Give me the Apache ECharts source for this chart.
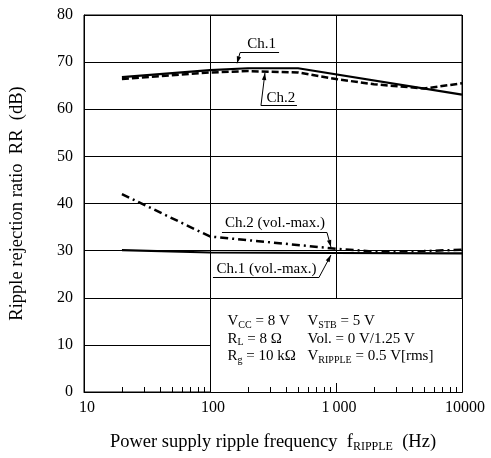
<!DOCTYPE html>
<html><head><meta charset="utf-8">
<script src="https://cdn.jsdelivr.net/npm/echarts@6/dist/echarts.min.js"></script>
<style>html,body{margin:0;padding:0;background:#fff}#c{width:491px;height:458px}</style>
</head><body><div id="c"></div>
<script>
// ---- data ----
const ch1Freq = [20, 100, 200, 500, 10000];
const ch1RR = [66.8, 68.3, 68.7, 68.7, 63.1];
const ch2Freq = [20, 100, 200, 500, 1000, 2000, 5000, 10000];
const ch2RR = [66.4, 67.8, 68.1, 67.8, 66.4, 65.3, 64.4, 65.5];
const ch2MaxFreq = [20, 100, 1000, 2000, 5000, 10000];
const ch2MaxRR = [42.0, 33.0, 30.4, 29.8, 29.9, 30.2];
const ch1MaxFreq = [20, 100, 1000, 10000];
const ch1MaxRR = [30.1, 29.6, 29.5, 29.4];
const xTickValues = [10, 100, 1000, 10000];
const xTickLabels = ['10', '100', '1\u2009000', '10000'];
const yTickValues = [0, 10, 20, 30, 40, 50, 60, 70, 80];
const yTickLabels = ['0', '10', '20', '30', '40', '50', '60', '70', '80'];
const minorTickValues = [20, 30, 40, 50, 60, 70, 80, 90, 200, 300, 400, 500, 600, 700, 800, 900, 1000, 2000, 3000, 4000, 5000, 6000, 7000, 8000, 9000];
const seriesNames = ['Ch.1', 'Ch.2', 'Ch.2 (vol.-max.)', 'Ch.1 (vol.-max.)'];
const conditionsCol1 = ['V{s|CC} = 8 V', 'R{s|L} = 8 \u03A9', 'R{s|g} = 10 k\u03A9'];
const conditionsCol2 = ['V{s|STB} = 5 V', 'Vol. = 0 V/1.25 V', 'V{s|RIPPLE} = 0.5 V[rms]'];

const FONT = '"Liberation Serif","DejaVu Serif",serif';
const zip = (a, b) => a.map((v, i) => [v, b[i]]);

// annotation geometry: tip in data coords, other points as pixel offsets from tip
const annotations = [
  { text: seriesNames[0], tip: [164, 69.75], elbow: [3, -11.6], end: [42, -11.6], label: [24.5, -19.5] },
  { text: seriesNames[1], tip: [273, 67.7], elbow: [-4, 32], end: [32, 32], label: [16, 25] },
  { text: seriesNames[2], tip: [912, 30.77], elbow: [-4, -15], end: [-109, -15], label: [-56, -24] },
  { text: seriesNames[3], tip: [912, 29.07], elbow: [-12, 22], end: [-118, 22], label: [-64.5, 14] }
];

const chart = echarts.init(document.getElementById('c'), null, { renderer: 'canvas' });

function arrowHead(tip, from) {
  const dx = tip[0] - from[0], dy = tip[1] - from[1];
  const len = Math.hypot(dx, dy);
  const ux = dx / len, uy = dy / len, L = 7, W = 2.2;
  const bx = tip[0] - ux * L, by = tip[1] - uy * L;
  return { type: 'polygon', shape: { points: [tip, [bx - uy * W, by + ux * W], [bx + uy * W, by - ux * W]] }, style: { fill: '#000' } };
}

function renderOverlay(params, api) {
  const children = [];
  const p0 = api.coord([100, 20]);
  const p1 = api.coord([10000, 0]);
  const bx = Math.round(p0[0]) + 0.5, by = Math.round(p0[1]) + 0.5;
  children.push({ type: 'rect', shape: { x: bx, y: by, width: Math.round(p1[0]) - Math.round(p0[0]), height: Math.round(p1[1]) - Math.round(p0[1]) },
    style: { fill: '#fff', stroke: '#000', lineWidth: 1 } });
  minorTickValues.forEach(v => {
    const p = api.coord([v, 0]);
    const x = Math.round(p[0]) + 0.5;
    const len = v === 1000 ? 9 : 5;
    children.push({ type: 'line', shape: { x1: x, y1: Math.round(p[1]), x2: x, y2: Math.round(p[1]) - len }, style: { stroke: '#000', lineWidth: 1 } });
  });
  // conditions text
  const rich = { s: { fontSize: 10, fontFamily: FONT, padding: [7, 0, 0, 0] } };
  for (let i = 0; i < 3; i++) {
    const y = by + 23 + i * 17.5;
    children.push({ type: 'text', x: bx + 17, y: y, style: { text: conditionsCol1[i], fontSize: 15, fontFamily: FONT, fill: '#000', align: 'left', verticalAlign: 'middle', rich: rich } });
    children.push({ type: 'text', x: bx + 97, y: y, style: { text: conditionsCol2[i], fontSize: 15, fontFamily: FONT, fill: '#000', align: 'left', verticalAlign: 'middle', rich: rich } });
  }
  // series annotations
  annotations.forEach(a => {
    const t = api.coord(a.tip);
    const e = [t[0] + a.elbow[0], Math.round(t[1] + a.elbow[1]) + 0.5];
    const n = [t[0] + a.end[0], e[1]];
    children.push({ type: 'polyline', shape: { points: [n, e, t] }, style: { stroke: '#000', lineWidth: 1, fill: null } });
    children.push(arrowHead(t, e));
    children.push({ type: 'text', x: t[0] + a.label[0], y: t[1] + a.label[1],
      style: { text: a.text, fontSize: 15, fontFamily: FONT, fill: '#000', align: 'center', verticalAlign: 'middle' } });
  });
  return { type: 'group', children: children };
}

const lineSeries = (name, data, type, width) => ({
  name: name, type: 'line', data: data, showSymbol: false, symbol: 'none', z: 3,
  lineStyle: { color: '#000', width: width, type: type }, silent: true, animation: false
});

chart.setOption({
  animation: false,
  backgroundColor: '#fff',
  grid: { left: 84, right: 29, top: 15, bottom: 66, show: true, borderColor: '#000', borderWidth: 1, backgroundColor: 'transparent' },
  xAxis: {
    type: 'log', logBase: 10, min: 10, max: 10000,
    name: 'Power supply ripple frequency  f{s|RIPPLE}  (Hz)', nameLocation: 'middle', nameGap: 40,
    nameTextStyle: { fontSize: 18.5, fontFamily: FONT, color: '#000',
      rich: { s: { fontSize: 12, fontFamily: FONT, color: '#000', padding: [9, 0, 0, 0] } } },
    axisLine: { show: true, lineStyle: { color: '#000', width: 1 } },
    axisTick: { show: false },
    splitLine: { show: true, lineStyle: { color: '#000', width: 1 } },
    axisLabel: { fontSize: 16, fontFamily: FONT, color: '#000', margin: 8, padding: [0, 0, 0, 6],
      formatter: v => { const i = xTickValues.indexOf(Math.round(v)); return i >= 0 ? xTickLabels[i] : ''; } }
  },
  yAxis: {
    type: 'value', min: 0, max: 80, interval: 10,
    name: 'Ripple rejection ratio  RR  (dB)', nameLocation: 'middle', nameGap: 57,
    nameTextStyle: { fontSize: 18.5, fontFamily: FONT, color: '#000' },
    axisLine: { show: true, lineStyle: { color: '#000', width: 1 } },
    axisTick: { show: false },
    splitLine: { show: true, lineStyle: { color: '#000', width: 1 } },
    axisLabel: { fontSize: 16, fontFamily: FONT, color: '#000', margin: 11, padding: [4, 0, 0, 0],
      formatter: v => { const i = yTickValues.indexOf(Math.round(v)); return i >= 0 ? yTickLabels[i] : ''; } }
  },
  series: [
    { type: 'custom', name: 'overlay', data: [[100, 20]], renderItem: renderOverlay, z: 2, clip: false, silent: true },
    lineSeries(seriesNames[0], zip(ch1Freq, ch1RR), 'solid', 2.2),
    lineSeries(seriesNames[1], zip(ch2Freq, ch2RR), [7, 3], 2.5),
    lineSeries(seriesNames[2], zip(ch2MaxFreq, ch2MaxRR), [8, 4, 2, 4], 2.5),
    lineSeries(seriesNames[3], zip(ch1MaxFreq, ch1MaxRR), 'solid', 2.2)
  ]
});
</script></body></html>
